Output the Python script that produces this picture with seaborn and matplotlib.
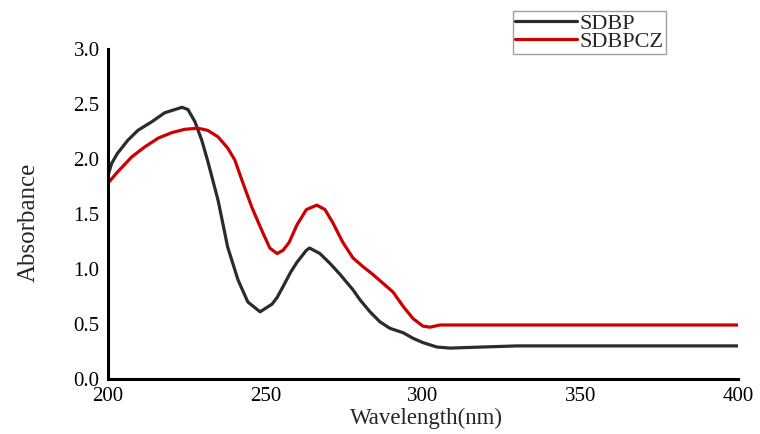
import numpy as np
import pandas as pd
import matplotlib
matplotlib.use("Agg")
import matplotlib.pyplot as plt
from matplotlib.lines import Line2D
import seaborn as sns

# --- data ---
sdbp_wl = [200, 201.2, 203, 206.3, 209.5, 214, 218, 221.3, 223.5, 225.4, 227.6, 229.8,
           231.7, 235, 238, 241.3, 244.4, 248.3, 252.1, 253.7, 255.6, 258, 260, 263, 264,
           267.3, 270.5, 273.7, 277.8, 280, 283.2, 286.3, 289.5, 293.7, 296.8, 300,
           304.4, 308.6, 319, 330, 400]
sdbp_abs = [1.85, 1.96, 2.05, 2.17, 2.26, 2.34, 2.42, 2.45, 2.47, 2.45, 2.34, 2.17,
            1.98, 1.62, 1.20, 0.90, 0.70, 0.61, 0.68, 0.74, 0.84, 0.97, 1.06, 1.17, 1.19,
            1.14, 1.05, 0.95, 0.81, 0.72, 0.61, 0.52, 0.46, 0.42, 0.37, 0.33,
            0.29, 0.28, 0.29, 0.30, 0.30]

sdbpcz_wl = [200, 203, 207.6, 211.7, 216, 220.3, 224.4, 228.6, 231.7, 235, 238, 240.3,
             242.5, 245.7, 249, 251.4, 253.7, 255.6, 257.5, 260, 263, 266.3, 268.9,
             271.4, 274.6, 277.8, 281, 284.1, 287.3, 290.5, 293.7, 296.8, 300, 302.2,
             305.4, 400]
sdbpcz_abs = [1.78, 1.88, 2.02, 2.11, 2.19, 2.24, 2.27, 2.28, 2.26, 2.20, 2.10, 1.99,
              1.81, 1.56, 1.34, 1.19, 1.14, 1.17, 1.24, 1.40, 1.54, 1.58, 1.54,
              1.42, 1.24, 1.10, 1.02, 0.95, 0.87, 0.79, 0.66, 0.55, 0.48, 0.47,
              0.49, 0.49]

series_names = ["SDBP", "SDBPCZ"]
x_ticks = [200, 250, 300, 350, 400]
y_ticks = [0.0, 0.5, 1.0, 1.5, 2.0, 2.5, 3.0]

df = pd.concat([
    pd.DataFrame({"Wavelength": sdbp_wl, "Absorbance": sdbp_abs, "Sample": series_names[0]}),
    pd.DataFrame({"Wavelength": sdbpcz_wl, "Absorbance": sdbpcz_abs, "Sample": series_names[1]}),
], ignore_index=True)

sns.set_style("white")
plt.rcParams["font.family"] = ["Liberation Serif", "DejaVu Serif"]

fig = plt.figure(figsize=(7.6, 4.34), dpi=100)
ax = fig.add_axes([0.142, 0.127, 0.829, 0.760])

palette = {"SDBP": "#2b2b2b", "SDBPCZ": "#cc0000"}
sns.lineplot(data=df, x="Wavelength", y="Absorbance", hue="Sample", palette=palette,
             estimator=None, sort=True, linewidth=2.3, ax=ax, legend=False)

ax.set_xlim(200, 400)
ax.set_ylim(0, 3.0)
ax.set_xticks(x_ticks)
ax.set_xticklabels([str(t) for t in x_ticks])
ax.set_yticks(y_ticks)
ax.set_yticklabels([f"{t:.1f}" for t in y_ticks])
ax.set_xticks([225, 275, 325, 375], minor=True)
ax.set_yticks([0.25, 0.75, 1.25, 1.75, 2.25, 2.75], minor=True)

for s in ["top", "right"]:
    ax.spines[s].set_visible(False)
for s in ["left", "bottom"]:
    ax.spines[s].set_linewidth(2.2)
    ax.spines[s].set_color("black")

ax.tick_params(axis="both", which="major", direction="in", length=5.5, width=2,
               labelsize=15, colors="black")
ax.tick_params(axis="both", which="minor", direction="in", length=3, width=2, colors="black")
ax.tick_params(axis="y", which="major", pad=6)
ax.tick_params(axis="x", which="major", pad=6)

ax.set_xlabel("Wavelength(nm)", fontsize=16.5)
ax.xaxis.set_label_coords(0.506, -0.088)
ax.set_ylabel("Absorbance", fontsize=18)
ax.yaxis.set_label_coords(-0.108, 0.476)

handles = [Line2D([], [], color=palette[n], linewidth=2.3) for n in series_names]
leg = fig.legend(handles, series_names, loc="upper left", bbox_to_anchor=(0.675, 0.975),
                 frameon=True, fancybox=False, fontsize=16, handlelength=2.8,
                 handletextpad=0.1, borderpad=0.1, labelspacing=-0.1, borderaxespad=0)
leg.get_frame().set_edgecolor("#888888")
leg.get_frame().set_linewidth(1.0)

fig.savefig("out.png", dpi=100)
